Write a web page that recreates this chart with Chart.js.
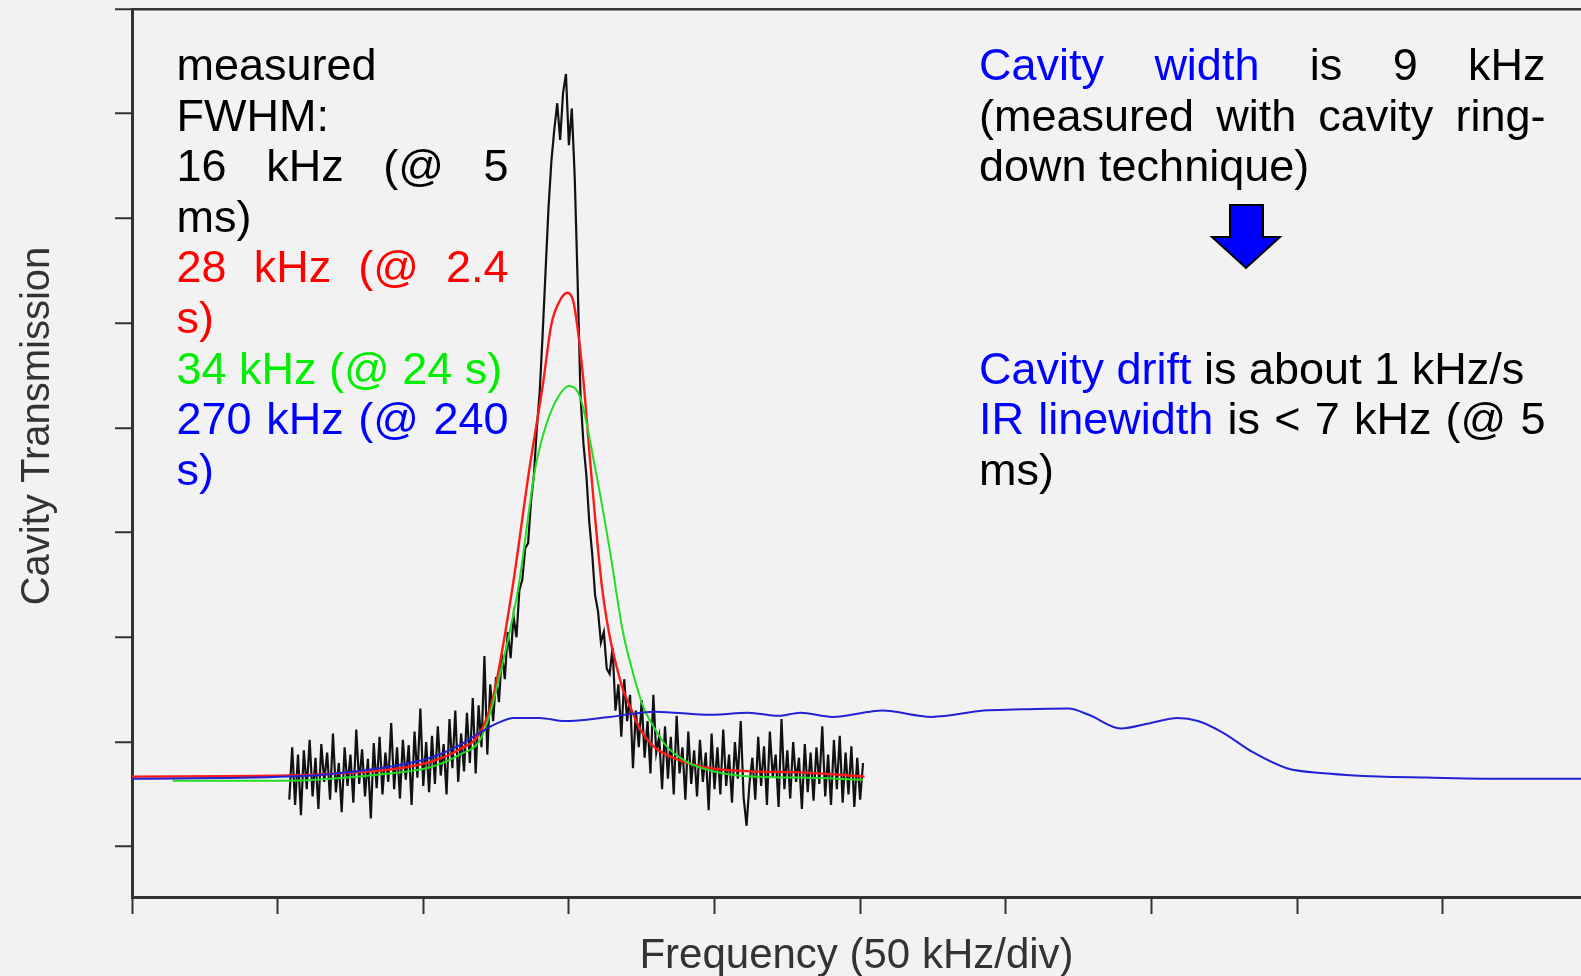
<!DOCTYPE html>
<html>
<head>
<meta charset="utf-8">
<script src="https://cdn.jsdelivr.net/npm/chart.js@4.4.1/dist/chart.umd.min.js"></script>
<style>
  html, body { margin: 0; padding: 0; background: #f2f2f2; }
  canvas { display: block; }
</style>
</head>
<body>
<canvas id="myChart" width="1581" height="976"></canvas>
<script>
// x in divisions (50 kHz/div), y in tick units (no labels on the original)
const xTicks = [0, 1, 2, 3, 4, 5, 6, 7, 8, 9]
const yTicks = [1, 2, 3, 4, 5, 6, 7, 8, 9]

// black: measured transmission @ 5 ms, one sample every 0.02 div from 1.08
const blackStart = 1.08
const blackStep = 0.02
const blackY = [
  1.45, 1.95, 1.40, 1.88, 1.30, 1.92, 1.55, 2.02, 1.48, 1.85,
  1.36, 1.98, 1.62, 1.90, 1.45, 2.08, 1.52, 1.80, 1.33, 1.95,
  1.58, 1.88, 1.42, 2.12, 1.60, 1.93, 1.48, 1.84, 1.27, 1.99,
  1.56, 2.05, 1.50, 1.90, 1.62, 2.18, 1.55, 1.95, 1.46, 2.02,
  1.64, 1.97, 1.40, 2.10, 1.66, 2.32, 1.58, 2.00, 1.52, 2.06,
  1.60, 2.15, 1.68, 1.98, 1.50, 2.22, 1.75, 2.30, 1.62, 2.08,
  1.72, 2.28, 1.80, 2.42, 1.70, 2.35, 1.95, 2.82, 1.88, 2.55,
  2.20, 2.62, 2.38, 2.85, 2.60, 3.05, 2.80, 3.20, 3.00, 3.45,
  3.55, 3.85, 3.90, 4.30, 4.55, 5.00, 5.35, 5.90, 6.50, 7.10,
  7.55, 7.85, 8.10, 7.75, 8.20, 8.38, 7.70, 8.05, 7.40, 6.40,
  5.30, 4.85, 4.55, 4.10, 3.80, 3.40, 3.25, 2.95, 3.05, 2.70,
  2.65, 2.90, 2.30, 2.55, 2.05, 2.60, 2.20, 2.45, 1.75, 2.30,
  1.95, 2.40, 1.85, 2.20, 1.70, 2.45, 1.90, 2.05, 1.55, 2.15,
  1.65, 2.05, 1.50, 2.25, 1.70, 1.95, 1.45, 2.10, 1.60, 1.92,
  1.48, 2.02, 1.62, 1.90, 1.35, 2.08, 1.55, 1.95, 1.50, 2.12,
  1.58, 1.88, 1.42, 2.00, 1.65, 2.20, 1.47, 1.20, 1.60, 1.85,
  1.45, 2.05, 1.58, 1.96, 1.40, 2.10, 1.66, 1.88, 1.38, 2.22,
  1.55, 1.92, 1.46, 2.00, 1.62, 1.85, 1.36, 1.98, 1.52, 1.90,
  1.44, 1.95, 1.60, 2.15, 1.48, 1.88, 1.40, 2.02, 1.55, 2.06,
  1.42, 1.90, 1.50, 1.96, 1.38, 1.85, 1.45, 1.80
]

// red: @ 2.4 s
const redX = [0, 1.08, 1.53, 1.84, 2.05, 2.25, 2.39, 2.48, 2.61, 2.73,
  2.82, 2.88, 2.94, 2.99, 3.03, 3.06, 3.10, 3.15, 3.23, 3.36,
  3.42, 3.49, 3.58, 3.67, 3.81, 3.97, 4.25, 4.59, 5.03]
const redY = [1.67, 1.68, 1.71, 1.75, 1.81, 1.93, 2.09, 2.43, 3.45, 4.62,
  5.40, 5.99, 6.22, 6.29, 6.21, 5.95, 5.45, 4.62, 3.45, 2.55,
  2.34, 2.12, 1.96, 1.88, 1.80, 1.75, 1.72, 1.71, 1.67]

// green: @ 24 s
const greenX = [0.28, 1.00, 1.70, 2.05, 2.25, 2.39, 2.46, 2.51, 2.65, 2.77,
  2.84, 2.92, 3.00, 3.08, 3.18, 3.28, 3.37, 3.44, 3.51, 3.58,
  3.67, 3.81, 3.99, 4.25, 4.59, 5.02]
const greenY = [1.63, 1.63, 1.69, 1.76, 1.88, 2.02, 2.28, 2.55, 3.45, 4.62,
  5.01, 5.28, 5.40, 5.28, 4.62, 3.84, 3.06, 2.66, 2.34, 2.15,
  1.96, 1.81, 1.72, 1.67, 1.66, 1.64]

// blue: @ 240 s
const blueX = [0, 1.08, 1.70, 2.05, 2.25, 2.39, 2.51, 2.62, 2.80, 2.97,
  3.28, 3.59, 3.98, 4.23, 4.44, 4.59, 4.81, 5.07, 5.15, 5.49,
  5.85, 6.06, 6.43, 6.57, 6.79, 6.99, 7.18, 7.32, 7.49, 7.70,
  7.93, 8.21, 8.56, 8.89, 9.27, 9.95]
const blueY = [1.65, 1.67, 1.75, 1.85, 1.97, 2.09, 2.18, 2.23, 2.23, 2.20,
  2.24, 2.29, 2.26, 2.28, 2.25, 2.28, 2.24, 2.29, 2.30, 2.24,
  2.30, 2.31, 2.32, 2.26, 2.13, 2.18, 2.23, 2.20, 2.09, 1.90,
  1.75, 1.70, 1.67, 1.66, 1.65, 1.65]

const pts = (xs, ys) => xs.map((x, i) => ({ x: x, y: ys[i] }))
const blackPts = blackY.map((v, i) => ({ x: +(blackStart + i * blackStep).toFixed(2), y: v }))

const FONT = '"Liberation Sans", Arial, Helvetica, sans-serif'
const K = '#000000', R = '#ff0000', G = '#00ee00', B = '#0000ff'

// text boxes drawn on the plot, justified like the slide
const notes = [
  { x0: 176.5, x1: 508.5, lines: [
    { row: 0, parts: [['measured', K]] },
    { row: 1, parts: [['FWHM:', K]] },
    { row: 2, justify: true, parts: [['16 kHz (@ 5', K]] },
    { row: 3, parts: [['ms)', K]] },
    { row: 4, justify: true, parts: [['28 kHz (@ 2.4', R]] },
    { row: 5, parts: [['s)', R]] },
    { row: 6, parts: [['34 kHz (@ 24 s)', G]] },
    { row: 7, justify: true, parts: [['270 kHz (@ 240', B]] },
    { row: 8, parts: [['s)', B]] }
  ]},
  { x0: 979, x1: 1545.5, lines: [
    { row: 0, justify: true, parts: [['Cavity width', B], ['is 9 kHz', K]] },
    { row: 1, justify: true, parts: [['(measured with cavity ring-', K]] },
    { row: 2, parts: [['down technique)', K]] },
    { row: 6, parts: [['Cavity drift', B], ['is about 1 kHz/s', K]] },
    { row: 7, justify: true, parts: [['IR linewidth', B], ['is < 7 kHz (@ 5', K]] },
    { row: 8, parts: [['ms)', K]] }
  ]}
]

function drawLine(ctx, line, x0, x1, y) {
  const words = []
  line.parts.forEach(p => p[0].split(' ').forEach(w => { if (w) words.push([w, p[1]]) }))
  const widths = words.map(w => ctx.measureText(w[0]).width)
  const total = widths.reduce((a, b) => a + b, 0)
  const space = ctx.measureText(' ').width
  const gap = line.justify && words.length > 1 ? (x1 - x0 - total) / (words.length - 1) : space
  let x = x0
  words.forEach((w, i) => {
    ctx.fillStyle = w[1]
    ctx.fillText(w[0], x, y)
    x += widths[i] + gap
  })
}

const decor = {
  id: 'decor',
  beforeDraw(chart) {
    const ctx = chart.ctx
    ctx.save()
    ctx.fillStyle = '#f2f2f2'
    ctx.fillRect(0, 0, chart.width, chart.height)
    ctx.restore()
  },
  afterDraw(chart) {
    const ctx = chart.ctx
    const area = chart.chartArea
    ctx.save()
    // axis titles
    ctx.fillStyle = '#333333'
    ctx.textAlign = 'center'
    ctx.textBaseline = 'alphabetic'
    ctx.font = '42px ' + FONT
    ctx.fillText('Frequency (50 kHz/div)', (area.left + area.right) / 2, 968)
    ctx.font = '40px ' + FONT
    ctx.save()
    ctx.translate(49, 426)
    ctx.rotate(-Math.PI / 2)
    ctx.fillText('Cavity Transmission', 0, 0)
    ctx.restore()

    // annotations
    ctx.font = '45px ' + FONT
    ctx.textAlign = 'left'
    notes.forEach(n => n.lines.forEach(l => drawLine(ctx, l, n.x0, n.x1, 80 + l.row * 50.6)))

    // blue arrow
    ctx.beginPath()
    ctx.moveTo(1230, 205)
    ctx.lineTo(1263, 205)
    ctx.lineTo(1263, 237)
    ctx.lineTo(1280, 237)
    ctx.lineTo(1246, 268)
    ctx.lineTo(1212, 237)
    ctx.lineTo(1230, 237)
    ctx.closePath()
    ctx.fillStyle = '#0000ff'
    ctx.fill()
    ctx.lineWidth = 2
    ctx.strokeStyle = '#000000'
    ctx.stroke()
    ctx.restore()
  }
}

const ctx = document.getElementById('myChart')

new Chart(ctx, {
  type: 'line',
  data: {
    datasets: [
      { label: 'blue', data: pts(blueX, blueY), borderColor: '#2222d4', borderWidth: 2, cubicInterpolationMode: 'monotone' },
      { label: 'green', data: pts(greenX, greenY), borderColor: '#22dd22', borderWidth: 2, cubicInterpolationMode: 'monotone' },
      { label: 'red', data: pts(redX, redY), borderColor: '#ff1a1a', borderWidth: 2.4, cubicInterpolationMode: 'monotone' },
      { label: 'black', data: blackPts, borderColor: '#111111', borderWidth: 2.2, tension: 0 }
    ]
  },
  options: {
    responsive: false,
    animation: false,
    events: [],
    layout: { padding: { top: 9, right: 0, bottom: 0, left: 0 } },
    elements: { point: { radius: 0 } },
    plugins: { legend: { display: false }, tooltip: { enabled: false } },
    scales: {
      x: {
        type: 'linear',
        min: 0,
        max: 9.95,
        afterBuildTicks: s => { s.ticks = xTicks.map(v => ({ value: v })) },
        afterFit: s => { s.height = 79 },
        ticks: { display: false },
        grid: { drawOnChartArea: false, tickLength: 17, tickColor: '#333333', tickWidth: 2 },
        border: { color: '#333333', width: 3 }
      },
      y: {
        min: 0.52,
        max: 9,
        afterBuildTicks: s => { s.ticks = yTicks.map(v => ({ value: v })) },
        afterFit: s => { s.width = 132 },
        ticks: { display: false },
        grid: {
          color: c => (c.tick && c.tick.value === 9 ? '#333333' : 'rgba(0,0,0,0)'),
          lineWidth: 2.5,
          tickLength: 17,
          tickColor: '#333333',
          tickWidth: 2
        },
        border: { color: '#333333', width: 3 }
      }
    }
  },
  plugins: [decor]
})
</script>
</body>
</html>
